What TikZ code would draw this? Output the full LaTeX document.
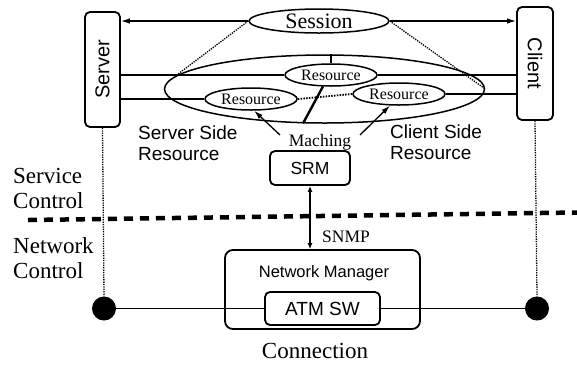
\documentclass[tikz,border=0pt]{standalone}
\usepackage{fontspec}
\setmainfont{Liberation Serif}
\setsansfont{Liberation Sans}
\usetikzlibrary{shapes.geometric,arrows.meta}
\newcommand{\fsz}[2][]{\fontsize{#2}{#2}\selectfont}
\begin{document}
\begin{tikzpicture}[x=1pt,y=-1pt,
  box/.style={draw, rounded corners=5pt, line width=1.8pt, inner sep=0pt},
  res/.style={draw, ellipse, line width=1.5pt, minimum width=92pt, minimum height=22pt, inner sep=0pt, font=\fsz{16}},
  link/.style={line width=1.3pt},
  dotline/.style={line width=1.3pt, dash pattern=on 1.3pt off 1.1pt},
  heavy/.style={line width=2.4pt},
  tip/.style={-{Latex[length=9pt,width=5.5pt]}},
  dot/.style={circle, fill=black, minimum size=24pt, inner sep=0pt},
  serifl/.style={inner sep=0pt, align=left, font=\fontsize{23}{25}\selectfont},
  sansl/.style={inner sep=0pt, align=left, font=\sffamily\fontsize{19}{21}\selectfont}]
\useasboundingbox (0,0) rectangle (577,365);

% end points: server and client
\node[box, minimum width=35pt, minimum height=115pt, font=\sffamily\fsz{20}] (server) at (102.5,69.5) {\rotatebox{90}{Server}};
\node[box, minimum width=36pt, minimum height=113pt, font=\sffamily\fsz{20}] (client) at (535,63.5) {\rotatebox{-90}{Client}};

% session and resources
\node[draw, ellipse, line width=1.5pt, minimum width=140pt, minimum height=24pt, inner sep=0pt, font=\fsz{22}] (session) at (319,21) {Session};
\node[draw, ellipse, line width=1.5pt, minimum width=320pt, minimum height=68pt] (bigell) at (324.5,89) {};
\node[res] (topres) at (331,75) {Resource};
\node[res] (leftres) at (251,99) {Resource};
\node[res] (rightres) at (399,94) {Resource};

\draw[link,tip] (session.west) -- (session.west -| server.east);
\draw[link,tip] (session.east) -- (session.east -| client.west);
\draw[dotline] (session.west) -- (bigell.175);
\draw[dotline] (session.east) -- (bigell.east);

\draw[link] (server.east |- topres.west) -- (topres.west);
\draw[link] (topres.east) -- (topres.east -| client.west);
\draw[link] (server.east |- leftres.west) -- (leftres.west);
\draw[link] (rightres.east) -- (rightres.east -| client.west);
\draw[line width=1.8pt, dash pattern=on 1.5pt off 1.3pt] (leftres.east) -- (rightres.west);
\draw[link] (topres.north) -- (topres.north |- bigell.north);
\draw[heavy] (topres.-125) -- (bigell.-122);

% labels around the resources
\node[sansl, anchor=west] (sside) at (138,143.5) {Server Side\\Resource};
\node[sansl, anchor=west] (cside) at (390,142.5) {Client Side\\Resource};
\node[inner sep=0pt, anchor=base, font=\fsz{17.5}] (match) at (320,146) {Maching};
\coordinate (mleft) at (280,135);
\coordinate (mright) at (360,135);
\draw[link,tip] (mleft) -- (leftres.-75);
\draw[link,tip] (mright) -- (rightres.-128);

% service resource manager and network side
\node[box, minimum width=80pt, minimum height=34pt, font=\sffamily\fsz{17.5}] (srm) at (310,168) {SRM};
\node[box, rounded corners=8pt, minimum width=195pt, minimum height=79pt] (nm) at (322.5,289.5) {};
\node[inner sep=0pt, anchor=base, font=\sffamily\fsz{16.5}] (nmlabel) at (324,277) {Network Manager};
\node[box, minimum width=115pt, minimum height=33pt, font=\sffamily\fsz{19}] (atm) at (322.5,308.5) {ATM SW};
\draw[heavy, {Latex[length=6pt,width=5pt]}-{Latex[length=6pt,width=5pt]}] (srm.south) -- (srm.south |- nm.north);
\node[inner sep=0pt, anchor=base west, font=\fsz{17.5}] (snmp) at (322,242) {SNMP};

% layer divider
\coordinate (divL) at (28,220);
\coordinate (divR) at (577,212.5);
\draw[line width=4.5pt, dash pattern=on 9pt off 7pt] (divL) -- (divR);
\node[serifl, anchor=west] (svc) at (13,188) {Service\\Control};
\node[serifl, anchor=west] (net) at (13,258) {Network\\Control};

% connection
\node[dot] (ldot) at (104,308.5) {};
\node[dot] (rdot) at (537,308.5) {};
\draw[link] (ldot) -- (ldot -| atm.west);
\draw[link] (atm.east) -- (rdot);
\draw[dotline] (server.south) -- (ldot.north);
\draw[dotline] (client.south) -- (rdot.north);
\node[inner sep=0pt, anchor=base, font=\fsz{23}] (conn) at (315,358) {Connection};
\end{tikzpicture}
\end{document}
